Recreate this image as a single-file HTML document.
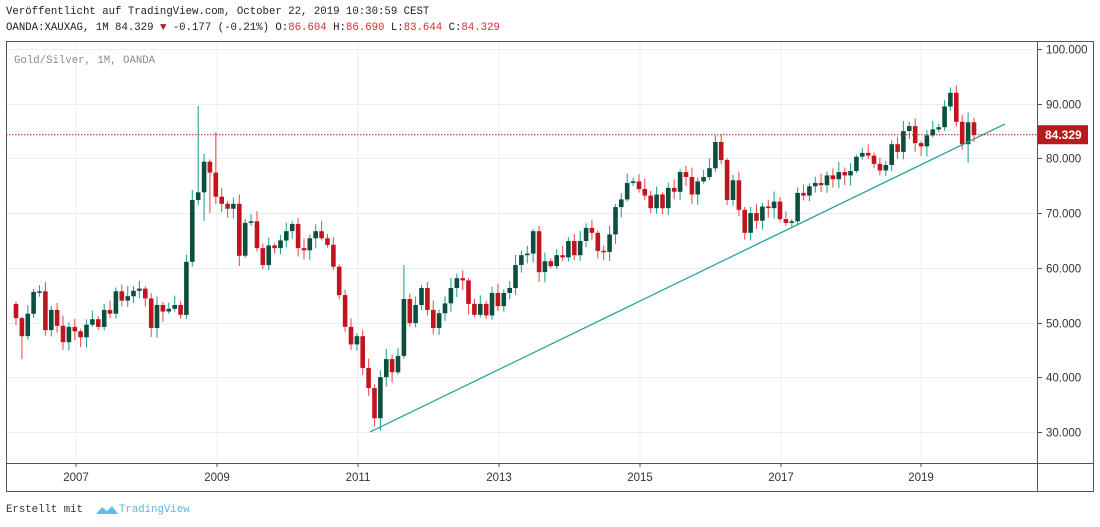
<!DOCTYPE html>
<html><head><meta charset="utf-8"><style>
html,body{margin:0;padding:0;background:#fff;}
body{width:1100px;height:527px;overflow:hidden;position:relative;font-family:"Liberation Mono",monospace;}
.t{position:absolute;white-space:pre;font-size:10.7px;color:#222;}
</style></head><body>
<div class="t" style="left:6px;top:6px;">Veröffentlicht auf TradingView.com, October 22, 2019 10:30:59 CEST</div>
<div class="t" style="left:6px;top:22px;">OANDA:XAUXAG, 1M 84.329 <span style="color:#b71c1c">▼</span> -0.177 (-0.21%) O:<span style="color:#d32f2f">86.604</span> H:<span style="color:#d32f2f">86.690</span> L:<span style="color:#d32f2f">83.644</span> C:<span style="color:#d32f2f">84.329</span></div>
<svg id="c" width="1100" height="527" style="position:absolute;left:0;top:0" xmlns="http://www.w3.org/2000/svg"></svg>
<div class="t" style="left:14px;top:55px;color:#8a8a8a;">Gold/Silver, 1M, OANDA</div>
<div class="t" style="left:6px;top:504px;color:#333;">Erstellt mit</div>
<svg style="position:absolute;left:95px;top:503px" width="24" height="14"><path d="M1 11 L7 4 L12 8 L17 3 L23 11 Z" fill="#5bc0eb"/></svg>
<div class="t" style="left:119px;top:504px;color:#5bb8e8;">TradingView</div>
<script>
var C=[50.8,47.5,51.6,55.6,55.7,48.6,52.3,49.4,46.4,49.2,48.4,47.3,49.6,50.6,49.2,52.3,51.6,55.7,54.0,54.8,55.8,56.2,54.4,49.0,53.2,52.0,52.5,53.2,51.4,
61.1,72.4,73.8,79.4,77.4,73.0,71.7,70.8,71.7,62.2,
68.2,68.5,63.6,60.5,64.1,63.6,65.0,66.7,68.0,63.6,
63.2,65.4,66.7,65.4,64.2,60.2,55.0,49.2,46.0,47.5,
41.7,38.0,32.5,40.0,43.3,40.9,43.9,54.3,49.9,53.2,
56.3,52.3,49.0,51.7,53.5,56.3,58.1,57.7,53.4,51.4,
53.4,51.3,55.4,53.0,55.4,56.3,60.5,62.3,62.6,66.7,
59.2,61.2,60.3,62.3,61.9,64.9,62.3,64.9,67.3,66.4,
63.1,62.9,66.1,71.1,72.5,75.5,75.8,74.4,73.2,70.9,
73.4,70.9,74.6,73.9,77.5,76.6,73.4,75.8,76.6,78.2,
83.0,79.7,72.4,76.0,70.6,66.4,70.0,68.6,71.2,70.9,
72.1,68.9,68.2,68.5,73.7,73.2,74.9,75.5,75.1,76.9,
76.2,77.5,76.9,77.7,80.3,81.0,80.5,79.0,77.8,78.8,
82.6,81.2,85.0,85.9,82.8,82.2,84.2,85.3,85.7,89.5,
92.0,86.7,82.6,86.6,84.3];
var HI={1:51,31:89.6,34:84.8,66:60.5,119:84.2,159:93,160:93.4,148:79.5};
var LO={1:43.3,32:68.6,33:70,62:30.2,162:79.2,0:49.5};
function Y(v){return 49+(100-v)*5.47;}
var s='';
var years=[76,217,358,499,640,781,921];
years.forEach(function(x){s+='<line x1="'+x+'" y1="41" x2="'+x+'" y2="463" stroke="#e8eef3" stroke-width="1"/>';});
for(var v=30;v<=100;v+=10){var y=Math.round(Y(v))+.5;s+='<line x1="6" y1="'+y+'" x2="1037" y2="'+y+'" stroke="#e8eef3" stroke-width="1"/>';
s+='<line x1="1037" y1="'+y+'" x2="1042" y2="'+y+'" stroke="#555"/>';
s+='<text x="1046" y="'+(y+4)+'" font-family="Liberation Sans,sans-serif" font-size="11.5" fill="#333">'+v+'.000</text>';}
var lab=['2007','2009','2011','2013','2015','2017','2019'];
years.forEach(function(x,i){s+='<line x1="'+x+'" y1="463" x2="'+x+'" y2="467" stroke="#555"/><text x="'+x+'" y="481" text-anchor="middle" font-family="Liberation Sans,sans-serif" font-size="11.5" fill="#333">'+lab[i]+'</text>';});
var o=53.4;
for(var i=0;i<C.length;i++){
 var c=C[i];var x=16+i*5.877;
 var r=((i*37)%11)/11;
 var h=HI[i]!==undefined?HI[i]:Math.max(o,c)+0.4+r*1.6;
 var l=LO[i]!==undefined?LO[i]:Math.min(o,c)-0.4-((i*53)%13)/13*1.6;
 var up=c>=o;
 var wc=up?'#26a69a':'#ef5350';
 var bc=up?'#0d4f3f':'#c0151f';
 s+='<line x1="'+x.toFixed(1)+'" y1="'+Y(h).toFixed(1)+'" x2="'+x.toFixed(1)+'" y2="'+Y(l).toFixed(1)+'" stroke="'+wc+'" stroke-width="1.1"/>';
 var yt=Y(Math.max(o,c)),yb=Y(Math.min(o,c));if(yb-yt<1.5){yb=yt+1.5;}
 s+='<rect x="'+(x-2.3).toFixed(1)+'" y="'+yt.toFixed(1)+'" width="4.6" height="'+(yb-yt).toFixed(1)+'" fill="'+bc+'"/>';
 o=c;
}
s+='<line x1="370" y1="432" x2="1005" y2="124" stroke="#26a69a" stroke-width="1.3"/>';
var py=Y(84.329);
s+='<line x1="6" y1="'+py+'" x2="1037" y2="'+py+'" stroke="#b71c1c" stroke-width="1" stroke-dasharray="1.5,1.5"/>';
s+='<rect x="1037" y="'+(py-9.5)+'" width="51" height="19" fill="#b71c1c"/><text x="1045" y="'+(py+4.5)+'" font-family="Liberation Sans,sans-serif" font-size="12" font-weight="bold" fill="#fff">84.329</text>';
s+='<rect x="6.5" y="41.5" width="1087" height="450" fill="none" stroke="#555"/>';
s+='<line x1="6" y1="463.5" x2="1094" y2="463.5" stroke="#555"/>';
s+='<line x1="1037.5" y1="41" x2="1037.5" y2="492" stroke="#555"/>';
document.getElementById('c').innerHTML=s;
</script>
</body></html>
